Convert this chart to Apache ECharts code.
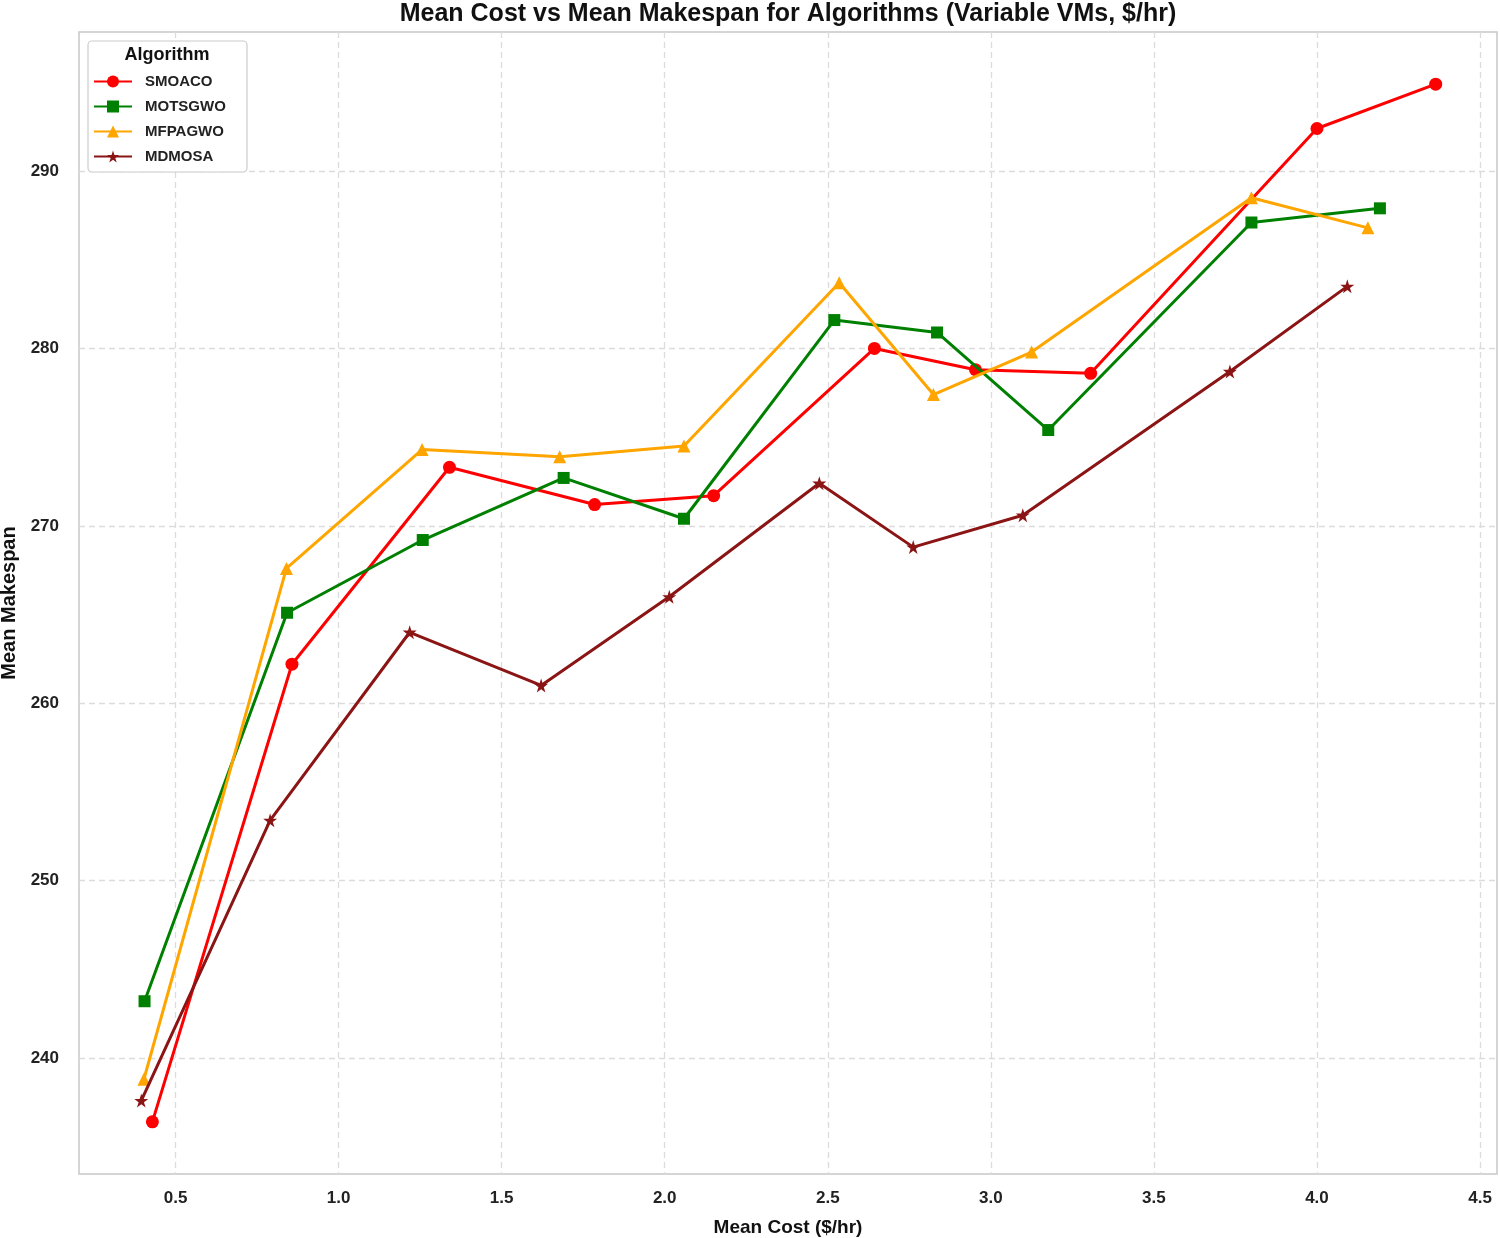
<!DOCTYPE html>
<html>
<head>
<meta charset="utf-8">
<script src="https://cdn.jsdelivr.net/npm/echarts@6/dist/echarts.min.js"></script>
<style>
html,body{margin:0;padding:0;background:#fff;}
#chart{width:1500px;height:1238px;}
</style>
</head>
<body>
<div id="chart"></div>
<script>
// ---- data ----
const seriesNames = ['SMOACO', 'MOTSGWO', 'MFPAGWO', 'MDMOSA'];

const smoacoCost     = [0.429, 0.857, 1.340, 1.785, 2.150, 2.643, 2.953, 3.306, 4.000, 4.364];
const smoacoMakespan = [236.4, 262.2, 273.3, 271.2, 271.7, 280.0, 278.8, 278.6, 292.4, 294.9];

const motsgwoCost     = [0.405, 0.842, 1.258, 1.690, 2.059, 2.520, 2.835, 3.176, 3.799, 4.193];
const motsgwoMakespan = [243.2, 265.1, 269.2, 272.7, 270.4, 281.6, 280.9, 275.4, 287.1, 287.9];

const mfpagwoCost     = [0.403, 0.840, 1.256, 1.678, 2.059, 2.535, 2.824, 3.125, 3.799, 4.156];
const mfpagwoMakespan = [238.8, 267.6, 274.3, 273.9, 274.5, 283.7, 277.4, 279.8, 288.5, 286.8];

const mdmosaCost     = [0.395, 0.790, 1.218, 1.621, 2.014, 2.474, 2.762, 3.098, 3.733, 4.093];
const mdmosaMakespan = [237.6, 253.4, 264.0, 261.0, 266.0, 272.4, 268.8, 270.6, 278.7, 283.5];

const xTicks = [0.5, 1.0, 1.5, 2.0, 2.5, 3.0, 3.5, 4.0, 4.5];
const yTicks = [240, 250, 260, 270, 280, 290];

// ---- styling ----
const FONT = 'Liberation Sans, Arial, sans-serif';
const colors = ['#ff0000', '#008000', '#ffa500', '#8b1414'];
const starPath = 'path://M50,0 L61.2,34.5 L97.6,34.5 L68.2,55.9 L79.4,90.5 L50,69.1 L20.6,90.5 L31.8,55.9 L2.4,34.5 L38.8,34.5 Z';
const symbols = ['circle', 'rect', 'triangle', starPath];
const symbolSizes = [13, 12, 13, 14];

function zip(xs, ys) { return xs.map((x, i) => [x, ys[i]]); }
const allData = [
  zip(smoacoCost, smoacoMakespan),
  zip(motsgwoCost, motsgwoMakespan),
  zip(mfpagwoCost, mfpagwoMakespan),
  zip(mdmosaCost, mdmosaMakespan)
];

const chart = echarts.init(document.getElementById('chart'), null, {renderer: 'canvas'});

const option = {
  backgroundColor: '#ffffff',
  animation: false,
  grid: {
    left: 79, right: 3, top: 32, bottom: 64,
    outerBoundsMode: 'none',
    containLabel: false,
    show: true, borderColor: '#c8c8c8', borderWidth: 1.5, backgroundColor: 'transparent'
  },
  xAxis: {
    type: 'value',
    min: 0.204, max: 4.552,
    name: 'Mean Cost ($/hr)',
    nameLocation: 'middle',
    nameGap: 44,
    nameTextStyle: {fontFamily: FONT, fontSize: 19, fontWeight: 'bold', color: '#111'},
    axisLine: {show: false},
    axisTick: {show: false, customValues: xTicks},
    axisLabel: {
      customValues: xTicks,
      formatter: v => v.toFixed(1),
      fontFamily: FONT, fontSize: 17, fontWeight: 'bold', color: '#222', margin: 16
    },
    splitLine: {show: true, lineStyle: {color: '#dcdcdc', width: 1.3, type: [6, 4]}}
  },
  yAxis: {
    type: 'value',
    min: 233.46, max: 297.84,
    name: 'Mean Makespan',
    nameLocation: 'middle',
    nameGap: 56,
    nameTextStyle: {fontFamily: FONT, fontSize: 20, fontWeight: 'bold', color: '#111'},
    axisLine: {show: false},
    axisTick: {show: false, customValues: yTicks},
    axisLabel: {
      customValues: yTicks,
      formatter: v => String(v),
      fontFamily: FONT, fontSize: 17, fontWeight: 'bold', color: '#222', margin: 20
    },
    splitLine: {show: true, lineStyle: {color: '#dcdcdc', width: 1.3, type: [6, 4]}}
  },
  legend: {
    data: seriesNames,
    orient: 'vertical',
    left: 93, top: 74,
    padding: 0,
    itemWidth: 38, itemHeight: 15, itemGap: 10,
    textStyle: {fontFamily: FONT, fontSize: 15, fontWeight: 'bold', color: '#222', padding: [0, 0, 0, 8]},
    z: 10
  },
  graphic: [
    {
      type: 'text', z: 6, silent: true,
      x: 788, y: 14,
      style: {
        text: 'Mean Cost vs Mean Makespan for Algorithms (Variable VMs, $/hr)',
        fontFamily: FONT, fontSize: 25, fontWeight: 'bold', fill: '#111',
        align: 'center', verticalAlign: 'middle'
      }
    },
    {
      type: 'rect', z: 5, silent: true,
      shape: {x: 88, y: 41, width: 159, height: 131, r: 4},
      style: {fill: '#ffffff', stroke: '#cccccc', lineWidth: 1.2}
    },
    {
      type: 'text', z: 6, silent: true,
      x: 167, y: 55,
      style: {
        text: 'Algorithm', fontFamily: FONT, fontSize: 18, fontWeight: 'bold', fill: '#111',
        align: 'center', verticalAlign: 'middle'
      }
    }
  ],
  series: seriesNames.map((name, i) => ({
    name: name,
    type: 'line',
    data: allData[i],
    symbol: symbols[i],
    symbolSize: symbolSizes[i],
    showAllSymbol: true,
    lineStyle: {color: colors[i], width: 3},
    itemStyle: {color: colors[i], borderWidth: 0},
    z: 3 + i
  }))
};

chart.setOption(option);
</script>
</body>
</html>
